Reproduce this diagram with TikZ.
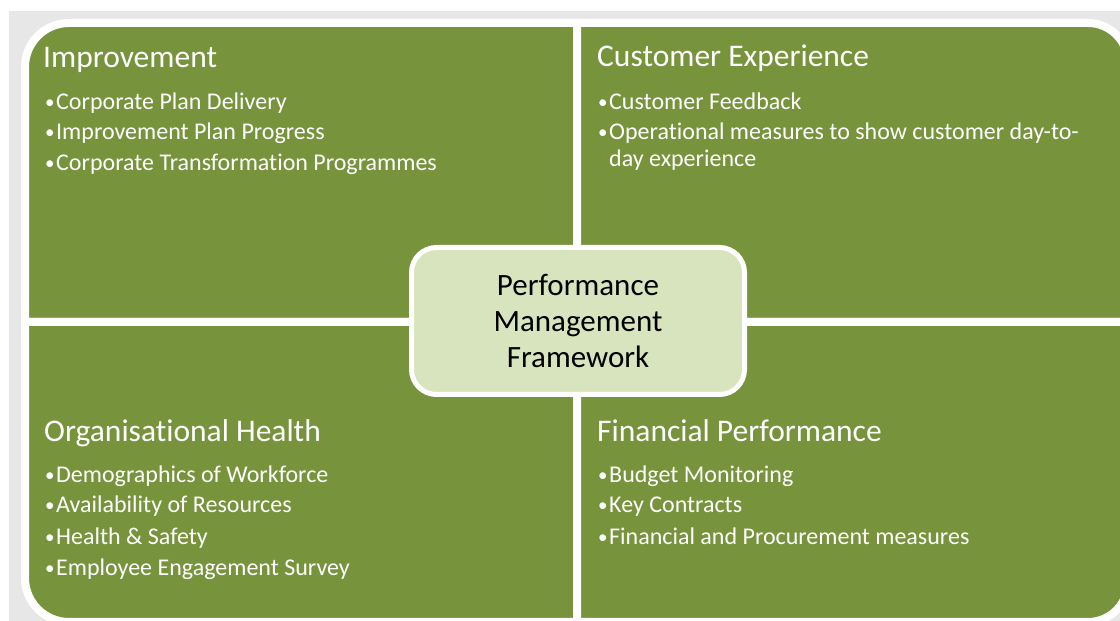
\documentclass[tikz,border=0pt]{standalone}
\usepackage{fontspec}
\setmainfont{Carlito}[Ligatures={NoCommon}]
\definecolor{quadgreen}{RGB}{119,147,60}
\definecolor{centerfill}{RGB}{216,228,189}
\definecolor{bggray}{RGB}{231,231,231}
\newcommand{\bul}{\makebox[11pt][l]{\raisebox{1.6pt}{\fontsize{19}{19}\selectfont •}}}
\begin{document}
\begin{tikzpicture}[x=1pt,y=1pt,
  quad/.style={fill=quadgreen, draw=white, line width=8pt, line join=miter},
  quadtitle/.style={anchor=base west, inner sep=0pt, text=white, font=\fontsize{31.5}{38}\selectfont},
  item/.style={anchor=base west, inner sep=0pt, text=white, font=\fontsize{24}{29}\selectfont},
  centerbox/.style={fill=centerfill, draw=white, line width=5pt, rounded corners=25pt,
    minimum width=333pt, minimum height=147pt, align=center, text=black,
    font=\fontsize{31}{36}\selectfont, inner sep=0pt}]
\useasboundingbox (0,0) rectangle (1120,621);
\clip (0,0) rectangle (1120,621);
\fill[white] (0,0) rectangle (1120,621);
\fill[bggray] (9,0) rectangle (1120,610);
% quadrants
\draw[quad] (25,299) -- (25,554) arc[start angle=180, end angle=90, radius=44] -- (577,598) -- (577,299) -- cycle;
\draw[quad] (577,299) -- (577,598) -- (1088,598) arc[start angle=90, end angle=0, radius=40] -- (1128,299) -- cycle;
\draw[quad] (25,299) -- (577,299) -- (577,-1) -- (69,-1) arc[start angle=270, end angle=180, radius=44] -- cycle;
\draw[quad] (577,299) -- (1128,299) -- (1128,39) arc[start angle=0, end angle=-90, radius=40] -- (577,-1) -- cycle;
% top-left
\node[quadtitle] (t1) at (43,553) {Improvement};
\node[item] (a1) at (45,511) {\bul Corporate Plan Delivery};
\node[item] (a2) at (45,481) {\bul Improvement Plan Progress};
\node[item] (a3) at (45,450) {\bul Corporate Transformation Programmes};
% top-right
\node[quadtitle] (t2) at (597,554) {Customer Experience};
\node[item] (b1) at (598,511) {\bul Customer Feedback};
\node[item] (b2) at (598,481) {\bul Operational measures to show customer day-to-};
\node[item] (b3) at (609,454) {day experience};
% bottom-left
\node[quadtitle] (t3) at (44,179) {Organisational Health};
\node[item] (c1) at (45,138) {\bul Demographics of Workforce};
\node[item] (c2) at (45,108) {\bul Availability of Resources};
\node[item] (c3) at (45,76) {\bul Health \& Safety};
\node[item] (c4) at (45,45) {\bul Employee Engagement Survey};
% bottom-right
\node[quadtitle] (t4) at (597,179) {Financial Performance};
\node[item] (d1) at (598,138) {\bul Budget Monitoring};
\node[item] (d2) at (598,108) {\bul Key Contracts};
\node[item] (d3) at (598,76) {\bul Financial and Procurement measures};
% centre
\node[centerbox] (pmf) at (578,300) {Performance\\Management\\Framework};
\end{tikzpicture}
\end{document}
